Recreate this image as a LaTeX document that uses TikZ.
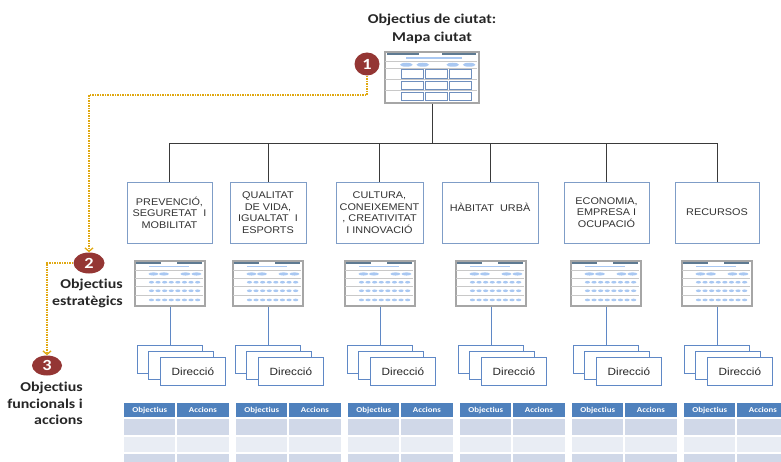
\documentclass[tikz,border=0pt]{standalone}
\usepackage{fontspec}
\setmainfont{Liberation Sans}
\newfontfamily\arialish{Liberation Sans}[FakeStretch=1.12]
\newfontfamily\calibrish{Carlito}[FakeStretch=1.18,Ligatures=NoCommon]
\usetikzlibrary{arrows.meta,shapes.geometric,positioning}
\definecolor{boxblue}{HTML}{7F9DC7}
\definecolor{txtgray}{HTML}{333333}
\definecolor{treegray}{HTML}{3A3A3A}
\definecolor{framegray}{HTML}{A6A6A6}
\definecolor{sepgray}{HTML}{C8C8C8}
\definecolor{barslate}{HTML}{5E7A92}
\definecolor{ovalblue}{HTML}{A9C8F2}
\definecolor{gridblue}{HTML}{6F8FBE}
\definecolor{linkblue}{HTML}{5F88C6}
\definecolor{badgered}{HTML}{943634}
\definecolor{gold}{HTML}{E0A810}
\definecolor{headblue}{HTML}{4F81BD}
\definecolor{rowdark}{HTML}{D0D8E8}
\definecolor{rowlight}{HTML}{E9EDF4}

\tikzset{
  areabox/.style={draw=boxblue, line width=0.9pt, fill=white, minimum height=61pt,
    inner sep=2pt, align=center, text=txtgray, font=\arialish\fontsize{9.7}{11.5}\selectfont},
  mapframe/.style={draw=framegray, line width=1.1pt, fill=white, inner sep=0pt},
  dirbox/.style={draw=linkblue, line width=0.8pt, fill=white, anchor=north west,
    minimum width=65pt, minimum height=28pt, inner sep=0pt},
  numbadge/.style={ellipse, fill=badgered, text=white, inner sep=0pt,
    font=\calibrish\bfseries\fontsize{15.5}{15.5}\selectfont},
  goldlink/.style={draw=gold, line width=2pt, dash pattern=on 1.5pt off 1pt,
    -{Straight Barb[length=3.5pt,width=8pt,line width=1.3pt]}},
  sidelabel/.style={anchor=north east, align=right, inner sep=0pt, text=black!85,
    font=\calibrish\bfseries\fontsize{13.5}{16.5}\selectfont},
  headcell/.style={fill=headblue, anchor=north west, minimum height=14pt, inner sep=0pt,
    text=white, font=\calibrish\bfseries\fontsize{7.5}{8}\selectfont},
}

% small strategic map icon, drawn inside node #1
\newcommand{\smallmap}[1]{%
  \begin{scope}[shift={(#1.north west)}]
    \draw[barslate, line width=1.8pt] (2,2.2) -- (27,2.2) (43,2.2) -- (68,2.2);
    \draw[ovalblue, line width=1.4pt] (15,6) -- (55,6);
    \foreach \s in {9.5,17.5,26,34.5}
      \draw[sepgray, line width=0.6pt] (1,\s) -- (69,\s);
    \foreach \o in {19,29.5,51,62}
      \fill[ovalblue] (\o,13.5) ellipse (5 and 1.6);
    \foreach \r in {21.8,30.3,39.5}
      \foreach \k in {0,...,7}
        \fill[ovalblue] (17+\k*6.6,\r) ellipse (2.6 and 1.3);
  \end{scope}}

\begin{document}
\begin{tikzpicture}[x=1pt,y=-1pt]
\clip (0,0) rectangle (781,462);

% Top: city map
\node[align=center, inner sep=0pt, text=black!85, font=\calibrish\bfseries\fontsize{13.5}{17.5}\selectfont]
  (title) at (432,29) {Objectius de ciutat:\\Mapa ciutat};
\node[mapframe, minimum width=94pt, minimum height=51pt] (m0) at (432,77.5) {};
\begin{scope}[shift={(m0.north west)}]
  \draw[barslate, line width=1.8pt] (3,2.2) -- (35,2.2) (58,2.2) -- (92,2.2);
  \draw[ovalblue, line width=1.5pt] (22,6.7) -- (78,6.7);
  \foreach \s in {10,16.7,28,39.3}
    \draw[sepgray, line width=0.6pt] (1,\s) -- (93,\s);
  \foreach \o in {21.9,38.3,68.3,84.7}
    \fill[ovalblue] (\o,13.3) ellipse (6.3 and 2);
  \foreach \r/\h in {18/8.7,29.8/8.7,41/8.5}
    \foreach \c in {16.7,40.7,65}
      \draw[gridblue, line width=0.9pt, fill=white] (\c,\r) rectangle ++(22,\h);
\end{scope}

% tree to the six areas
\coordinate (bus) at (432,143);
\draw[treegray, line width=0.9pt] (m0.south) -- (bus);
\foreach \x/\w/\txt [count=\i] in {
    169.5/85/{PREVENCIÓ,\\SEGURETAT\ \ I\\MOBILITAT},
    268/76/{QUALITAT\\DE VIDA,\\IGUALTAT\ \ I\\ESPORTS},
    379.5/87/{CULTURA,\\CONEIXEMENT\\, CREATIVITAT\\I INNOVACIÓ},
    490/96/{\raisebox{10pt}{HÀBITAT\ \ URBÀ}},
    606.5/85/{ECONOMIA,\\EMPRESA I\\OCUPACIÓ},
    717/84/{RECURSOS}}{
  \node[areabox, minimum width=\w pt] (c\i) at (\x,212.5) {\txt};
  \draw[treegray, line width=0.9pt] (c\i.north) -- (c\i.north |- bus);
}
\draw[treegray, line width=0.9pt] (c1.north |- bus) -- (c6.north |- bus);

% strategic maps and directions
\foreach \x [count=\i] in {170,268,380,491,606,717}{
  \node[mapframe, minimum width=70pt, minimum height=45pt] (m\i) at (\x,283.5) {};
  \smallmap{m\i}
  \node[dirbox] (b\i) at (\x-33,345) {};
  \node[dirbox] (e\i) at (\x-22,351) {};
  \node[dirbox, text=black!85, font=\arialish\fontsize{10.5}{12}\selectfont] (f\i) at (\x-10,357) {Direcció};
  \draw[linkblue, line width=0.8pt] (m\i.south) -- (m\i.south |- b\i.north);
}

% action tables
\foreach \t in {0,...,5}{
  \pgfmathsetmacro{\tx}{124+112*\t}
  \node[headcell, minimum width=51pt] (ha\t) at (\tx,403) {Objectius};
  \node[headcell, minimum width=52.5pt] (hb\t) at (\tx+52.5,403) {Accions};
  \foreach \ry/\rh/\rc in {419/16/rowdark,437/15/rowlight,454/16/rowdark}{
    \fill[\rc] (\tx,\ry) rectangle ++(51,\rh);
    \fill[\rc] (\tx+52.5,\ry) rectangle ++(52.5,\rh);
  }
}

% Left: numbered levels
\node[numbadge, minimum width=25pt, minimum height=23pt] (n1) at (367,64) {1};
\node[numbadge, minimum width=31pt, minimum height=21pt] (n2) at (89,263) {2};
\node[numbadge, minimum width=30pt, minimum height=20pt] (n3) at (47,365.5) {3};
\coordinate (g1) at (89,95);
\draw[goldlink] (n1.south) |- (g1) -- (n2.north);
\draw[goldlink] (n2.west) -| (n3.north);
\node[sidelabel] (l2) at (123,279) {Objectius\\estratègics};
\node[sidelabel] (l3) at (83,382) {Objectius\\funcionals i\\accions};
\end{tikzpicture}
\end{document}
